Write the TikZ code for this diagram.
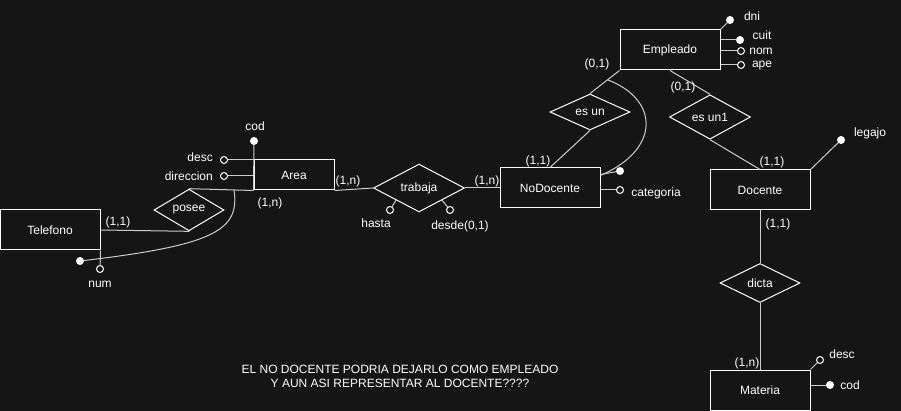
\documentclass[tikz,border=0pt]{standalone}
\usepackage{fontspec}
\setmainfont{Liberation Sans}
\usetikzlibrary{shapes.geometric}
\definecolor{bgcolor}{RGB}{21,21,21}
\definecolor{linkcolor}{RGB}{205,205,205}

\begin{document}
\begin{tikzpicture}[x=1pt,y=-1pt,font=\fontsize{12}{14}\selectfont,
    entity/.style={draw=white,line width=1pt,minimum width=100pt,minimum height=40pt,inner sep=0pt,text=white},
    relation/.style={draw=white,line width=1pt,diamond,inner sep=0pt,text=white},
    keydot/.style={circle,fill=white,inner sep=0pt,minimum size=8pt},
    attr/.style={circle,draw=white,fill=bgcolor,line width=1pt,inner sep=0pt,minimum size=7pt},
    link/.style={draw=linkcolor,line width=1pt},
    lbl/.style={text=white,inner sep=1pt}]
            \fill[bgcolor] (0,0) rectangle (901,411);
            \useasboundingbox (0,0) rectangle (901,411);

            \node[entity] (telefono) at (50,230) {Telefono};
            \node[entity,minimum width=80pt,minimum height=30pt] (area) at (294,175) {Area};
            \node[entity] (nodocente) at (550,188) {NoDocente};
            \node[entity] (empleado) at (670,50) {Empleado};
            \node[entity] (docente) at (760,190) {Docente};
            \node[entity] (materia) at (760,390) {Materia};

            \node[relation,minimum width=70pt,minimum height=33pt] (posee) at (189,210) {posee};
            \node[relation,minimum width=91pt,minimum height=38pt] (trabaja) at (419,188) {trabaja};
            \node[relation,minimum width=80pt,minimum height=33pt] (esun) at (590,112) {es un};
            \node[relation,minimum width=81pt,minimum height=34pt] (esununo) at (710,117) {es un1};
            \node[relation,minimum width=80pt,minimum height=39pt] (dicta) at (760,283) {dicta};

            \foreach \n/\x/\y in {areacod/254/141, numkey/80/261, nodockey/620/171, dni/730/20,
                    cuit/740/40, legajo/841/140, matcod/830/385}
                \node[keydot] (\n) at (\x,\y) {};
            \foreach \n/\x/\y in {areadesc/224/160, areadir/224/176, num/100/269, hasta/390/210,
                    desde/450/210, categoria/620/190, nom/741/51, ape/741/65, matdesc/820/360}
                \node[attr] (\n) at (\x,\y) {};

            \draw[link] (areacod) -- (area.south west);
            \draw[link] (areadesc) -- (areadesc -| area.west);
            \draw[link] (areadir) -- (areadir -| area.west);
            \draw[link] (telefono.east) -- (posee.south);
            \draw[link] (posee.north) -- (area.south west);
            \draw[link] (telefono.south east) -- (num);
            \draw[link] (area.south east) -- (trabaja.west);
            \draw[link] (trabaja.east) -- (nodocente.west);
            \draw[link] (trabaja.south west) -- (hasta);
            \draw[link] (trabaja.south east) -- (desde);
            \draw[link] (nodocente.north) -- (esun.south);
            \draw[link] (esun.north) -- (empleado.south west);
            \draw[link] (nodocente.15) -- (nodockey);
            \draw[link] (categoria -| nodocente.east) -- (categoria);
            \draw[link] (empleado.south) -- (esununo.north);
            \draw[link] (esununo.south) -- (docente.north);
            \draw[link] (docente.south) -- (dicta.north);
            \draw[link] (dicta.south) -- (materia.north);
            \draw[link] (empleado.north east) -- (dni);
            \draw[link] (cuit -| empleado.east) -- (cuit);
            \draw[link] (nom -| empleado.east) -- (nom);
            \draw[link] (ape -| empleado.east) -- (ape);
            \draw[link] (docente.north east) -- (legajo);
            \draw[link] (materia.north east) -- (matdesc);
            \draw[link] (matcod -| materia.east) -- (matcod);

            \coordinate (areasplit) at (234,190);
            \draw[link] (areasplit) .. controls (240,230) and (215,245) .. (numkey);
            \coordinate (esunsplit) at (608,80);
            \draw[link] (esunsplit) .. controls (660,100) and (660,150) .. (nodocente.14);

            \foreach \n/\x/\y/\t in {cardtel/118/222/{(1,1)}, cardarea/270/203/{(1,n)},
                    cardareatr/348/181/{(1,n)}, cardnodtr/487/181/{(1,n)}, cardnodes/538/161/{(1,1)},
                    cardemp/597/64/{(0,1)}, cardempdoc/683/87/{(0,1)}, carddoc/772/162/{(1,1)},
                    carddocdic/778/224/{(1,1)}, cardmat/747/363/{(1,n)},
                    codlbl/255/126/cod, numlbl/100/284/num, hastalbl/376/223/hasta,
                    desdelbl/460/226/{desde(0,1)}, catlbl/656/193/categoria, dnilbl/752/16/dni,
                    cuitlbl/762/35/cuit, nomlbl/761/51/nom, apelbl/762/66/ape, legajolbl/870/133/legajo,
                    matdesclbl/842/354/desc, matcodlbl/850/385/cod}
                \node[lbl] (\n) at (\x,\y) {\t};
            \node[lbl,anchor=east] (desclbl) at (214,157) {desc};
            \node[lbl,anchor=east] (dirlbl) at (214,176) {direccion};

            \node[lbl,align=center] (note) at (400,376)
            {EL NO DOCENTE PODRIA DEJARLO COMO EMPLEADO\\ Y AUN ASI REPRESENTAR AL DOCENTE????};
        \end{tikzpicture}
\end{document}
